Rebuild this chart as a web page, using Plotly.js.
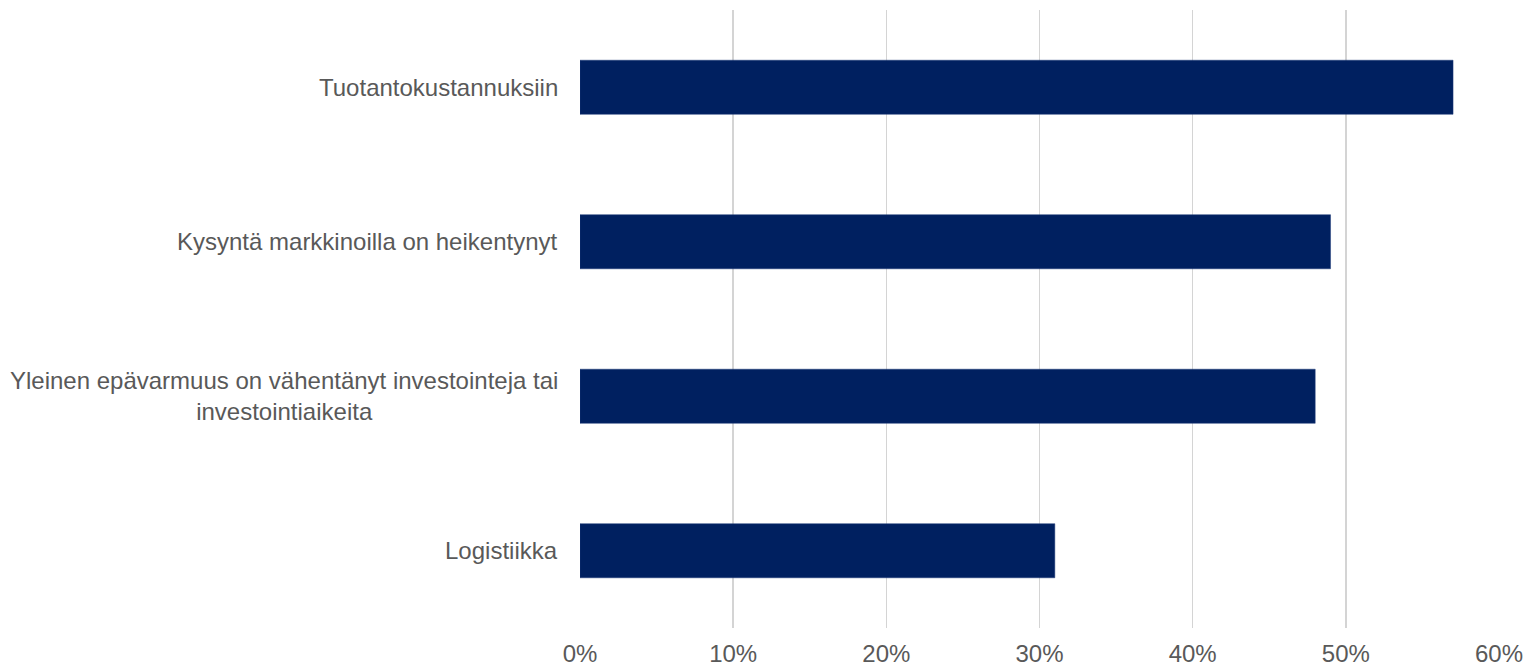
<!DOCTYPE html>
<html>
<head>
<meta charset="utf-8">
<script src="https://cdn.plot.ly/plotly-3.0.1.min.js"></script>
<style>
html,body{margin:0;padding:0;background:#fff;}
#chart{width:1524px;height:667px;}
</style>
</head>
<body>
<div id="chart"></div>
<script>
const categories = [
  "Tuotantokustannuksiin",
  "Kysyntä markkinoilla on heikentynyt",
  "Yleinen epävarmuus on vähentänyt investointeja tai<br>investointiaikeita",
  "Logistiikka"
];
const values = [57, 49, 48, 31];
const xTickValues = [0, 10, 20, 30, 40, 50, 60];
const xTickLabels = ["0%", "10%", "20%", "30%", "40%", "50%", "60%"];

const FONT = "Liberation Sans, Arial, sans-serif";
const TEXT = "#595959";

const trace = {
  type: "bar",
  orientation: "h",
  x: values,
  y: categories,
  marker: {color: "#002060", line: {color: "#1f3a78", width: 0.5}},
  hoverinfo: "x+y"
};

const annotations = categories.map(c => ({
  xref: "paper", yref: "y",
  x: 0, y: c,
  xanchor: "right", yanchor: "middle",
  xshift: -20,
  text: c,
  showarrow: false,
  align: "center",
  font: {family: FONT, size: 24, color: TEXT}
}));

const layout = {
  width: 1524, height: 667,
  margin: {l: 580, r: 25, t: 10, b: 39, pad: 0},
  paper_bgcolor: "#ffffff",
  plot_bgcolor: "#ffffff",
  showlegend: false,
  bargap: 0.65,
  xaxis: {
    range: [0, 60],
    tickvals: xTickValues,
    ticktext: xTickLabels,
    showgrid: true,
    gridcolor: "#d4d4d4",
    gridwidth: 1.5,
    zeroline: false,
    showline: false,
    ticks: "",
    ticklabelstandoff: 9,
    tickfont: {family: FONT, size: 24, color: TEXT},
    fixedrange: true
  },
  yaxis: {
    autorange: "reversed",
    showticklabels: false,
    showgrid: false,
    zeroline: false,
    showline: false,
    ticks: "",
    fixedrange: true
  },
  annotations: annotations
};

Plotly.newPlot("chart", [trace], layout, {displayModeBar: false, staticPlot: true});
</script>
</body>
</html>
